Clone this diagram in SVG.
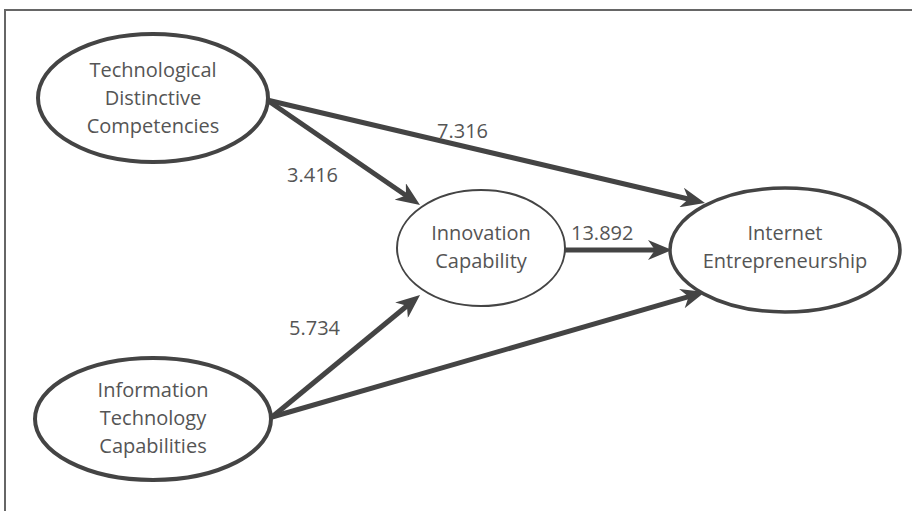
<svg xmlns="http://www.w3.org/2000/svg" width="912" height="511" viewBox="0 0 912 511">
<style>
.node ellipse{fill:#fff;stroke:#444}
.t{font-family:"Open Sans","Liberation Sans",sans-serif;font-size:20px;fill:#555;text-anchor:middle}
.lbl{font-family:"Open Sans","Liberation Sans",sans-serif;font-size:20px;fill:#555}
.edge{stroke:#444;stroke-width:5;fill:none;marker-end:url(#ah)}
</style>
<defs>
<marker id="ah" viewBox="0 0 24 20" refX="8" refY="10" markerWidth="24" markerHeight="20" markerUnits="userSpaceOnUse" orient="auto">
<path d="M24,10 L0,0 L7,10 L0,20 Z" fill="#444"/>
</marker>
</defs>
<rect x="0" y="0" width="912" height="511" fill="#fff"/>
<rect x="5" y="10" width="920" height="520" fill="none" stroke="#666" stroke-width="2"/>
<g id="connectors">
<line class="edge" x1="267" y1="100" x2="406.8" y2="196"/>
<line class="edge" x1="267" y1="100" x2="689.4" y2="199.3"/>
<line class="edge" x1="272" y1="417" x2="407.7" y2="305.2"/>
<line class="edge" x1="272" y1="417" x2="689.6" y2="296.4"/>
<line class="edge" x1="565" y1="250" x2="656" y2="250"/>
</g>
<g id="labels">
<text class="lbl" x="437" y="138">7.316</text>
<text class="lbl" x="287" y="182">3.416</text>
<text class="lbl" x="289" y="335">5.734</text>
<text class="lbl" x="571" y="240">13.892</text>
</g>
<g id="node-tdc" class="node">
<ellipse cx="153" cy="98" rx="115" ry="64" stroke-width="4"/>
<text class="t" x="153" y="77">Technological</text>
<text class="t" x="153" y="105">Distinctive</text>
<text class="t" x="153" y="133">Competencies</text>
</g>
<g id="node-itc" class="node">
<ellipse cx="153" cy="419" rx="118" ry="61" stroke-width="4"/>
<text class="t" x="153" y="397">Information</text>
<text class="t" x="153" y="425">Technology</text>
<text class="t" x="153" y="453">Capabilities</text>
</g>
<g id="node-ic" class="node">
<ellipse cx="481" cy="248" rx="84" ry="58" stroke-width="2"/>
<text class="t" x="481" y="240">Innovation</text>
<text class="t" x="481" y="268">Capability</text>
</g>
<g id="node-ie" class="node">
<ellipse cx="785" cy="250" rx="115" ry="62" stroke-width="3.5"/>
<text class="t" x="785" y="240">Internet</text>
<text class="t" x="785" y="268">Entrepreneurship</text>
</g>
</svg>
